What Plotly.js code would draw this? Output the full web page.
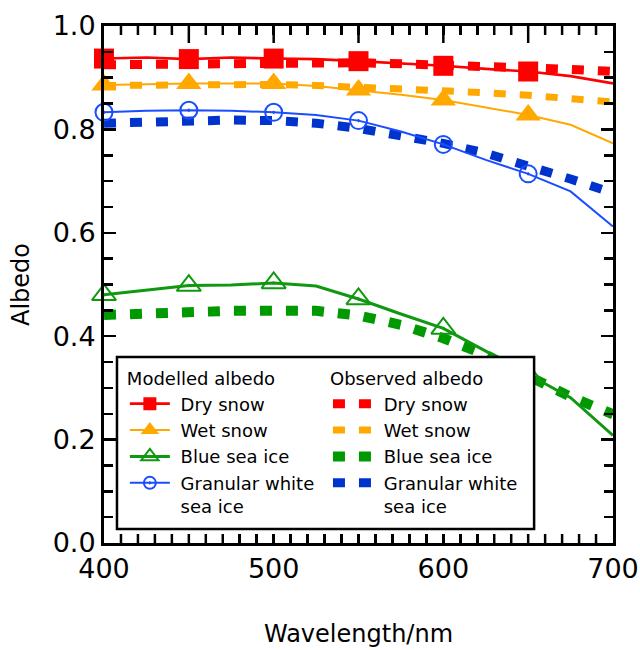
<!DOCTYPE html>
<html>
<head>
<meta charset="utf-8">
<script src="https://cdn.plot.ly/plotly-3.0.1.min.js"></script>
<style>html,body{margin:0;padding:0;background:#fff;}#chart{width:640px;height:650px;}</style>
</head>
<body>
<div id="chart"></div>
<script>
// Wavelength grid (nm) for the curves
const wavelength = [400, 425, 450, 475, 500, 525, 550, 575, 600, 625, 650, 675, 700];
// Wavelengths where the modelled curves carry a marker
const markerWavelength = [400, 450, 500, 550, 600, 650];

// Modelled albedo
const modDrySnow      = [0.937, 0.939, 0.936, 0.939, 0.937, 0.936, 0.932, 0.928, 0.923, 0.917, 0.912, 0.903, 0.889];
const modWetSnow      = [0.886, 0.888, 0.889, 0.889, 0.889, 0.884, 0.876, 0.867, 0.857, 0.843, 0.828, 0.809, 0.773];
const modBlueIce      = [0.480, 0.489, 0.498, 0.499, 0.503, 0.497, 0.472, 0.443, 0.415, 0.371, 0.326, 0.281, 0.208];
const modGranularIce  = [0.833, 0.836, 0.837, 0.836, 0.833, 0.828, 0.817, 0.796, 0.771, 0.741, 0.714, 0.680, 0.612];

// Observed albedo
const obsDrySnow      = [0.925, 0.926, 0.928, 0.929, 0.930, 0.930, 0.929, 0.927, 0.925, 0.922, 0.919, 0.916, 0.912];
const obsWetSnow      = [0.885, 0.886, 0.887, 0.887, 0.887, 0.885, 0.882, 0.879, 0.875, 0.871, 0.866, 0.860, 0.853];
const obsBlueIce      = [0.441, 0.445, 0.449, 0.449, 0.449, 0.449, 0.440, 0.422, 0.396, 0.364, 0.323, 0.283, 0.249];
const obsGranularIce  = [0.812, 0.815, 0.816, 0.818, 0.817, 0.812, 0.802, 0.789, 0.773, 0.754, 0.730, 0.704, 0.677];

const seriesNames = ['Dry snow', 'Wet snow', 'Blue sea ice', 'Granular white<br>sea ice'];
const xLabelVals = [400, 500, 600, 700];
const yTickVals = [0.0, 0.2, 0.4, 0.6, 0.8, 1.0];

// x tick positions every 10 nm (labelled only at the hundreds); long top ticks every 50 nm
const xTickVals = [];
for (let v = 400; v <= 700; v += 10) xTickVals.push(v);
const xTickText = xTickVals.map(v => xLabelVals.includes(v) ? String(v) : '');

const FONT = 'DejaVu Sans, Verdana, sans-serif';
const SP = '&nbsp;';
const PLOT_H = 650 - 26 - 107;

const modelled = [
  {y: modDrySnow,     color: '#ff0000', symbol: 'square',               size: 20, lsize: 13, lw: 2.6, mlw: 0},
  {y: modWetSnow,     color: '#ffa800', symbol: 'triangle-up',          size: 22, lsize: 16, lw: 2,   mlw: 0},
  {y: modBlueIce,     color: '#109910', symbol: 'triangle-up-open-dot', size: 21, lsize: 15, lw: 3,   mlw: 2},
  {y: modGranularIce, color: '#1a4dff', symbol: 'circle-open-dot',      size: 17, lsize: 12, lw: 2,   mlw: 2}
];
const observed = [
  {y: obsDrySnow,     color: '#ff0000', w: 9},
  {y: obsWetSnow,     color: '#ffa800', w: 7},
  {y: obsBlueIce,     color: '#009900', w: 10},
  {y: obsGranularIce, color: '#0033cc', w: 9}
];

function pick(values) {
  return markerWavelength.map(w => values[wavelength.indexOf(w)]);
}
function legendName(n) {
  return n.split('<br>').map(p => SP + p).join('<br>');
}

const traces = [];
// observed (dashed) curves first so they sit below the modelled curves
observed.forEach((s, i) => {
  traces.push({
    x: wavelength, y: s.y, type: 'scatter', mode: 'lines',
    name: legendName(seriesNames[i]), legend: 'legend2',
    line: {color: s.color, width: s.w, dash: '12px,14px'}
  });
});
modelled.forEach((s, i) => {
  traces.push({
    x: wavelength, y: s.y, type: 'scatter', mode: 'lines',
    showlegend: false, line: {color: s.color, width: s.lw}
  });
  traces.push({
    x: markerWavelength, y: pick(s.y), type: 'scatter', mode: 'markers',
    showlegend: false, cliponaxis: false,
    marker: {color: s.color, symbol: s.symbol, size: s.size, line: {color: s.color, width: s.mlw}}
  });
  // legend-only sample
  traces.push({
    x: [null], y: [null], type: 'scatter', mode: 'lines+markers',
    name: legendName(seriesNames[i]), legend: 'legend',
    line: {color: s.color, width: s.lw},
    marker: {color: s.color, symbol: s.symbol, size: s.lsize, line: {color: s.color, width: s.mlw}}
  });
});

const legendCommon = {
  font: {family: FONT, size: 18, color: '#000'},
  bgcolor: 'rgba(0,0,0,0)', borderwidth: 0,
  xanchor: 'left', yanchor: 'top', yref: 'paper', xref: 'paper',
  orientation: 'v', itemwidth: 40, valign: 'top',
  traceorder: 'normal', tracegroupgap: 0, itemclick: false, itemdoubleclick: false
};

// tick marks along the bottom and top frame, placed on the x scale
const shapes = [];
xTickVals.forEach(v => {
  if (v === 400 || v === 700) return;
  const topLen = (v % 50 === 0) ? 17 : 9;
  shapes.push({type: 'line', xref: 'x', yref: 'paper', layer: 'above',
    x0: v, x1: v, y0: 0, y1: 9 / PLOT_H, line: {color: '#000', width: 2.5}});
  shapes.push({type: 'line', xref: 'x', yref: 'paper', layer: 'above',
    x0: v, x1: v, y0: 1, y1: 1 - topLen / PLOT_H, line: {color: '#000', width: 2.5}});
});
shapes.push({
  type: 'rect', xref: 'paper', yref: 'paper', layer: 'above',
  x0: 0.0255, x1: 0.845, y0: 0.027, y1: 0.360,
  fillcolor: '#fff', line: {color: '#000', width: 2.5}
});

const layout = {
  width: 640, height: 650,
  margin: {l: 104, r: 27, t: 26, b: 107, pad: 0},
  paper_bgcolor: '#fff', plot_bgcolor: '#fff',
  font: {family: FONT, color: '#000'},
  showlegend: true,
  xaxis: {
    range: [400, 700], tickmode: 'array', tickvals: xTickVals, ticktext: xTickText,
    ticks: 'inside', ticklen: 9, tickwidth: 2.5, tickcolor: '#000',
    showline: true, linewidth: 3, linecolor: '#000', mirror: 'ticks',
    showgrid: false, zeroline: false,
    tickfont: {family: FONT, size: 27, color: '#000'},
    title: {text: 'Wavelength/nm', font: {family: FONT, size: 24, color: '#000'}, standoff: 42}
  },
  yaxis: {
    range: [0, 1], tickvals: yTickVals, tickformat: '.1f',
    ticks: 'inside', ticklen: 12, tickwidth: 2.5, tickcolor: '#000',
    minor: {dtick: 0.05, tick0: 0, ticks: 'inside', ticklen: 9, tickwidth: 2.5, tickcolor: '#000', showgrid: false},
    showline: true, linewidth: 3, linecolor: '#000', mirror: 'ticks',
    showgrid: false, zeroline: false,
    tickfont: {family: FONT, size: 27, color: '#000'},
    title: {text: 'Albedo', font: {family: FONT, size: 24, color: '#000'}, standoff: 17}
  },
  legend: Object.assign({}, legendCommon, {x: 0.041, y: 0.35,
    title: {text: 'Modelled albedo', font: {family: FONT, size: 18, color: '#000'}}}),
  legend2: Object.assign({}, legendCommon, {x: 0.44, y: 0.35,
    title: {text: 'Observed albedo', font: {family: FONT, size: 18, color: '#000'}}}),
  shapes: shapes
};

Plotly.newPlot('chart', traces, layout, {displayModeBar: false, staticPlot: true});
</script>
</body>
</html>
